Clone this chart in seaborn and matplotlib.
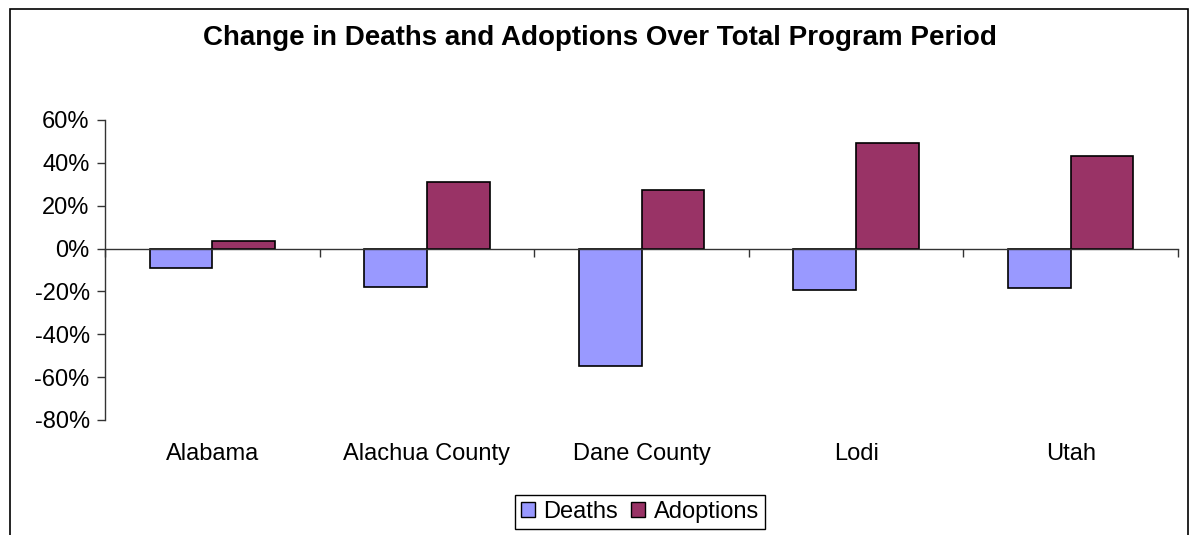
import matplotlib
matplotlib.use("Agg")
import matplotlib.pyplot as plt
import matplotlib.patches as mpatches
from matplotlib.ticker import FixedLocator, FuncFormatter
import seaborn as sns
import pandas as pd

categories = ["Alabama", "Alachua County", "Dane County", "Lodi", "Utah"]
deaths = [-0.09, -0.18, -0.55, -0.195, -0.185]
adoptions = [0.033, 0.31, 0.275, 0.495, 0.432]
series_names = ["Deaths", "Adoptions"]
y_ticks = [-0.8, -0.6, -0.4, -0.2, 0.0, 0.2, 0.4, 0.6]

df = pd.DataFrame({
    "Category": categories * 2,
    "Series": [series_names[0]] * len(categories) + [series_names[1]] * len(categories),
    "Value": deaths + adoptions,
})

sns.set_theme(style="white")
plt.rcParams["font.family"] = ["Liberation Sans", "DejaVu Sans"]

W, H = 1191, 535
fig = plt.figure(figsize=(W / 100, H / 100), dpi=100)
ax = fig.add_axes([105 / W, 1 - 420 / H, (1178 - 105) / W, (420 - 120) / H])

palette = {"Deaths": "#9999FF", "Adoptions": "#993366"}
sns.barplot(data=df, x="Category", y="Value", hue="Series", order=categories,
            hue_order=series_names, palette=palette, width=0.585, gap=0,
            edgecolor="black", linewidth=1.2, saturation=1, ax=ax, legend=True)

ax.set_xlim(-0.5, len(categories) - 0.5)
ax.set_ylim(-0.8, 0.6)
ax.set_yticks(y_ticks)
ax.yaxis.set_major_formatter(FuncFormatter(lambda v, p: f"{v*100:.0f}%"))
ax.tick_params(axis="y", which="major", length=6, width=1, color="#333333",
               labelsize=17, left=True, pad=5, labelcolor="black")

for s in ["top", "right"]:
    ax.spines[s].set_visible(False)
ax.spines["left"].set_color("#333333")
ax.spines["left"].set_linewidth(1)
ax.spines["bottom"].set_position(("data", 0))
ax.spines["bottom"].set_color("#333333")
ax.spines["bottom"].set_linewidth(1)

# boundaries as major ticks, category labels as minor ticks
ax.xaxis.set_major_locator(FixedLocator([i - 0.5 for i in range(len(categories) + 1)]))
ax.xaxis.set_major_formatter(FuncFormatter(lambda v, p: ""))
ax.xaxis.set_minor_locator(FixedLocator(list(range(len(categories)))))
ax.xaxis.set_minor_formatter(FuncFormatter(lambda v, p: categories[int(round(v))]))
ax.tick_params(axis="x", which="major", length=6, width=1, color="#333333", bottom=True, direction="out")
ax.tick_params(axis="x", which="minor", length=0, labelsize=17, pad=140, labelcolor="black")
ax.set_xlabel("")
ax.set_ylabel("")
ax.grid(False)

ax.set_title("")
fig.text(600 / W, 1 - 38 / H, "Change in Deaths and Adoptions Over Total Program Period",
         ha="center", va="center", fontsize=20, fontweight="bold", color="black")

leg = ax.get_legend()
if leg is not None:
    leg.remove()
handles = [mpatches.Patch(facecolor=palette[n], edgecolor="black", linewidth=1) for n in series_names]
fig.legend(handles, series_names, loc="center", bbox_to_anchor=(640 / W, 1 - 512 / H),
           ncol=2, frameon=True, fancybox=False, edgecolor="black", fontsize=17,
           labelcolor="black",
           handlelength=0.6, handleheight=0.6, handletextpad=0.35, columnspacing=0.55,
           borderpad=0.25, borderaxespad=0, framealpha=1)

border = mpatches.Rectangle((10 / W, -0.1), (1188 - 10) / W, 1.1 - 9 / H,
                            transform=fig.transFigure, fill=False, edgecolor="black",
                            linewidth=1.2, clip_on=False)
fig.patches.append(border)

fig.savefig("out.png", dpi=100, facecolor="white")
